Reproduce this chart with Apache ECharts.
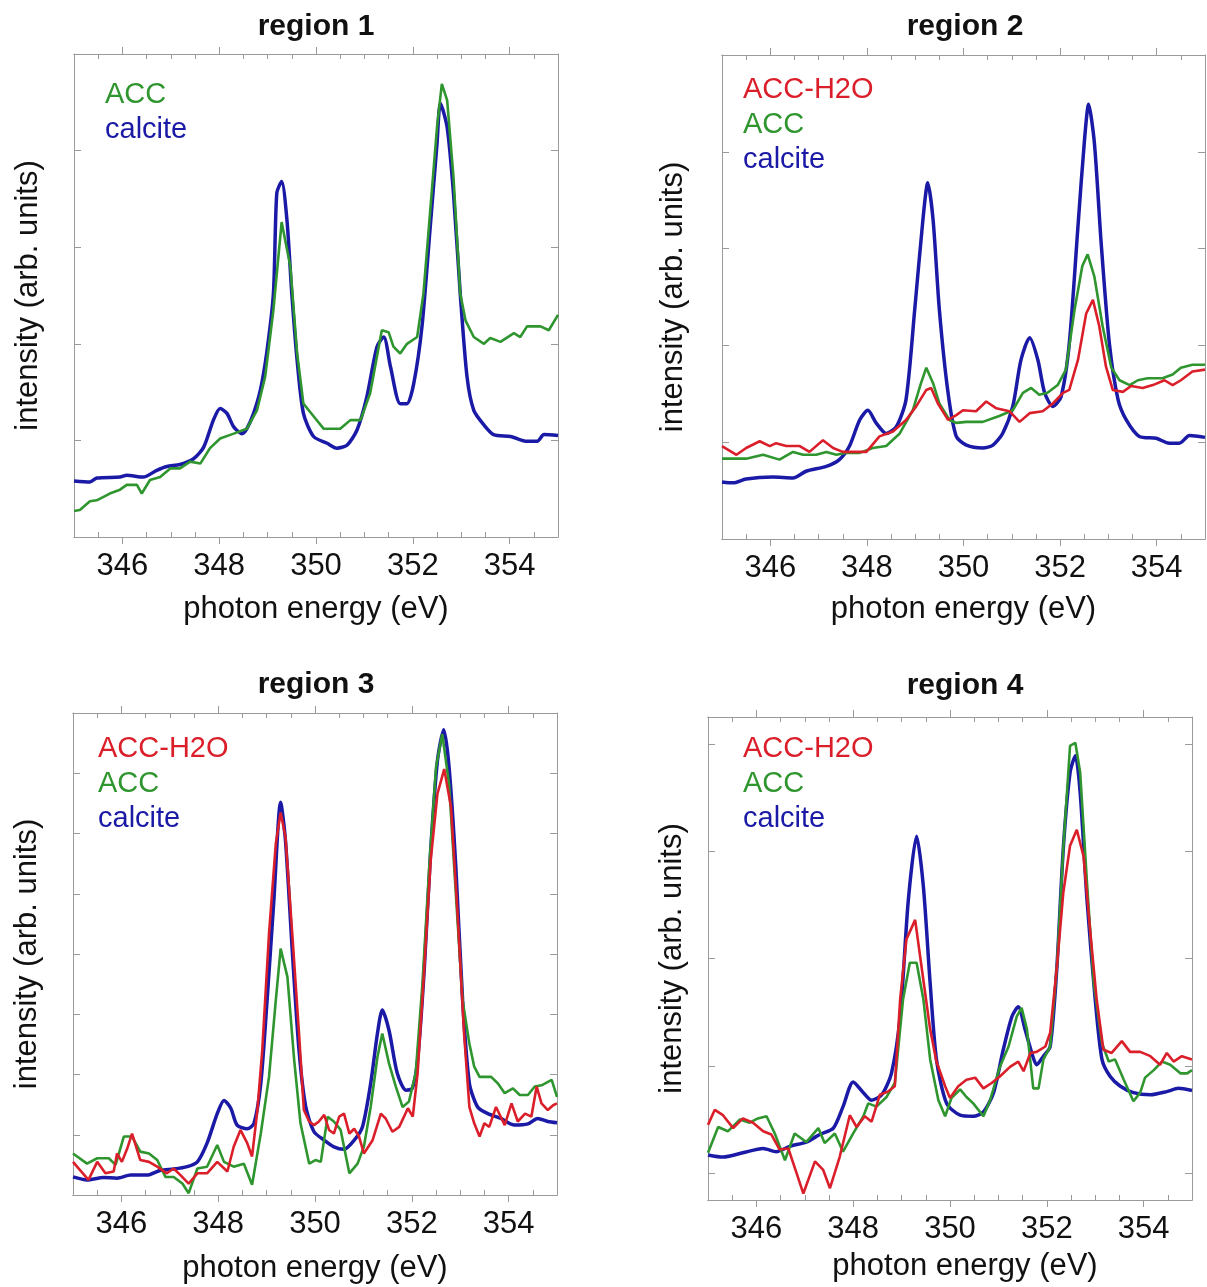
<!DOCTYPE html>
<html>
<head>
<meta charset="utf-8">
<script src="https://cdn.jsdelivr.net/npm/echarts@6/dist/echarts.min.js"></script>
<style>
  html, body { margin: 0; padding: 0; background: #fff; }
  #chart { width: 1207px; height: 1287px; }
</style>
</head>
<body>
<div id="chart"></div>
<script>
// x axis ticks (photon energy, eV)
const majorTicks = [346, 348, 350, 352, 354];
const minorTicks = [345.5, 346.5, 347, 347.5, 348.5, 349, 349.5, 350.5, 351, 351.5, 352.5, 353, 353.5, 354.5];
const regionTitles = ["region 1", "region 2", "region 3", "region 4"];

// region 1  [energy, intensity]
const r1Calcite = [[345,0.58],[345.33,0.57],[345.47,0.61],[345.95,0.62],[346.09,0.64],[346.43,0.62],[346.71,0.69],[346.92,0.73],[347.19,0.75],[347.47,0.81],[347.68,0.93],[347.88,1.21],[348.02,1.33],[348.16,1.28],[348.3,1.14],[348.47,1.07],[348.57,1.12],[348.71,1.28],[348.85,1.52],[348.98,1.9],[349.12,2.52],[349.19,3.56],[349.29,3.68],[349.4,3.28],[349.5,2.52],[349.61,1.83],[349.74,1.28],[349.95,1.04],[350.23,0.97],[350.43,0.92],[350.64,0.95],[350.85,1.11],[351.05,1.45],[351.26,1.97],[351.4,2.07],[351.54,1.76],[351.74,1.38],[351.88,1.38],[352.02,1.59],[352.19,2.18],[352.36,3.21],[352.5,4.07],[352.57,4.49],[352.71,4.24],[352.84,3.56],[352.98,2.52],[353.12,1.66],[353.26,1.31],[353.47,1.16],[353.67,1.06],[354.02,1.04],[354.36,0.99],[354.57,0.99],[354.71,1.06],[355,1.05]];
const r1Acc = [[345,0.27],[345.12,0.28],[345.33,0.37],[345.47,0.38],[345.74,0.45],[345.95,0.49],[346.09,0.54],[346.3,0.54],[346.4,0.45],[346.57,0.59],[346.78,0.62],[346.99,0.71],[347.19,0.71],[347.4,0.78],[347.61,0.76],[347.81,0.92],[348.02,1.02],[348.3,1.07],[348.57,1.12],[348.78,1.31],[348.95,1.66],[349.12,2.35],[349.29,3.26],[349.47,2.8],[349.61,1.9],[349.74,1.38],[349.95,1.25],[350.16,1.12],[350.5,1.12],[350.71,1.21],[350.92,1.21],[351.12,1.49],[351.36,2.14],[351.5,2.12],[351.6,1.97],[351.74,1.9],[351.88,2.0],[352.09,2.07],[352.22,2.52],[352.36,3.38],[352.5,4.24],[352.6,4.69],[352.71,4.52],[352.84,3.73],[352.98,2.52],[353.09,2.24],[353.26,2.07],[353.47,2.0],[353.6,2.06],[353.81,2.02],[354.09,2.11],[354.22,2.07],[354.36,2.18],[354.64,2.18],[354.81,2.14],[355,2.3]];

// region 2
const r2Calcite = [[345,0.59],[345.23,0.58],[345.5,0.62],[346.05,0.64],[346.47,0.63],[346.74,0.7],[347.16,0.75],[347.43,0.82],[347.64,0.96],[347.85,1.23],[348.02,1.33],[348.19,1.2],[348.4,1.09],[348.61,1.16],[348.81,1.44],[348.99,2.37],[349.16,3.3],[349.26,3.68],[349.37,3.3],[349.5,2.37],[349.68,1.51],[349.85,1.06],[350.06,0.97],[350.4,0.94],[350.61,0.97],[350.81,1.09],[351.02,1.37],[351.19,1.85],[351.37,2.08],[351.54,1.85],[351.68,1.51],[351.85,1.37],[352.02,1.47],[352.19,2.02],[352.37,3.23],[352.5,4.09],[352.59,4.49],[352.71,4.09],[352.85,3.06],[353.02,2.02],[353.2,1.44],[353.37,1.23],[353.64,1.06],[353.99,1.04],[354.26,0.99],[354.47,0.99],[354.68,1.07],[355,1.05]];
const r2Acc = [[345,0.83],[345.5,0.83],[345.85,0.87],[346.19,0.82],[346.47,0.9],[346.68,0.87],[346.95,0.87],[347.16,0.9],[347.37,0.87],[347.57,0.89],[347.85,0.89],[348.12,0.94],[348.4,0.96],[348.68,1.09],[348.95,1.33],[349.12,1.61],[349.23,1.77],[349.37,1.61],[349.5,1.4],[349.71,1.23],[349.85,1.2],[350.06,1.21],[350.4,1.21],[350.74,1.27],[351.02,1.33],[351.23,1.51],[351.4,1.56],[351.57,1.49],[351.74,1.51],[351.95,1.59],[352.12,1.75],[352.3,2.37],[352.46,2.82],[352.57,2.94],[352.71,2.71],[352.88,2.2],[353.06,1.77],[353.23,1.64],[353.44,1.59],[353.61,1.64],[353.81,1.66],[354.12,1.66],[354.33,1.7],[354.5,1.77],[354.74,1.8],[355,1.8]];
const r2AccH2o = [[345,0.96],[345.3,0.87],[345.5,0.94],[345.78,1.01],[345.99,0.96],[346.12,0.99],[346.33,0.96],[346.61,0.96],[346.81,0.9],[347.09,1.02],[347.3,0.94],[347.5,0.9],[347.78,0.9],[347.99,0.9],[348.26,1.06],[348.54,1.11],[348.81,1.23],[349.02,1.37],[349.23,1.54],[349.33,1.56],[349.47,1.4],[349.68,1.23],[349.85,1.28],[349.99,1.33],[350.26,1.32],[350.47,1.42],[350.68,1.35],[350.95,1.32],[351.16,1.21],[351.37,1.3],[351.64,1.32],[351.85,1.4],[352.06,1.51],[352.19,1.54],[352.37,1.85],[352.54,2.33],[352.68,2.47],[352.81,2.2],[352.95,1.78],[353.09,1.54],[353.3,1.52],[353.47,1.58],[353.71,1.56],[353.92,1.59],[354.16,1.64],[354.33,1.59],[354.5,1.64],[354.74,1.73],[355,1.75]];

// region 3
const r3Calcite = [[345,0.3],[345.29,0.25],[345.63,0.29],[345.91,0.28],[346.19,0.33],[346.53,0.33],[346.81,0.41],[347.08,0.43],[347.36,0.47],[347.57,0.55],[347.77,0.86],[347.98,1.35],[348.12,1.57],[348.26,1.44],[348.39,1.16],[348.6,1.1],[348.74,1.19],[348.88,1.85],[349.01,3.23],[349.15,4.89],[349.29,6.52],[349.39,5.88],[349.53,4.06],[349.67,2.4],[349.81,1.46],[349.98,1.05],[350.19,0.91],[350.39,0.8],[350.6,0.76],[350.81,0.91],[350.98,1.13],[351.15,1.85],[351.29,2.68],[351.39,3.07],[351.53,2.73],[351.7,2.02],[351.88,1.74],[352.01,1.77],[352.12,2.24],[352.26,3.78],[352.39,5.72],[352.53,7.21],[352.66,7.72],[352.77,7.1],[352.91,5.44],[353.05,3.23],[353.19,1.85],[353.36,1.46],[353.57,1.35],[353.84,1.27],[354.12,1.16],[354.4,1.18],[354.6,1.27],[354.81,1.22],[355,1.2]];
const r3Acc = [[345,0.69],[345.29,0.52],[345.5,0.61],[345.74,0.61],[345.88,0.5],[346.05,0.97],[346.22,0.97],[346.39,0.72],[346.57,0.69],[346.74,0.58],[346.91,0.3],[347.08,0.3],[347.26,0.19],[347.39,0.03],[347.57,0.44],[347.77,0.47],[347.98,0.83],[348.12,0.55],[348.32,0.47],[348.53,0.52],[348.7,0.17],[348.88,1.02],[349.05,1.96],[349.19,3.23],[349.29,4.09],[349.43,3.62],[349.57,2.24],[349.7,1.19],[349.88,0.52],[350.01,0.58],[350.12,0.55],[350.26,1.3],[350.39,1.22],[350.53,1.08],[350.71,0.36],[350.88,0.52],[351.01,0.8],[351.15,1.46],[351.29,2.29],[351.39,2.68],[351.53,2.18],[351.67,1.8],[351.81,1.46],[351.94,1.55],[352.08,2.02],[352.22,3.51],[352.36,5.44],[352.5,7.1],[352.63,7.65],[352.77,6.82],[352.94,4.61],[353.05,3.23],[353.19,2.51],[353.29,2.13],[353.4,1.96],[353.64,1.96],[353.78,1.85],[353.92,1.69],[354.09,1.77],[354.23,1.66],[354.4,1.66],[354.54,1.8],[354.68,1.82],[354.89,1.91],[355,1.63]];
const r3AccH2o = [[345,0.55],[345.15,0.41],[345.32,0.25],[345.5,0.55],[345.67,0.36],[345.84,0.39],[345.91,0.69],[346.01,0.55],[346.12,0.77],[346.22,1.02],[346.39,0.58],[346.57,0.55],[346.74,0.47],[346.94,0.36],[347.08,0.44],[347.22,0.33],[347.39,0.19],[347.57,0.36],[347.77,0.36],[347.98,0.55],[348.19,0.39],[348.32,0.8],[348.46,1.08],[348.6,0.86],[348.7,0.64],[348.81,1.41],[348.91,2.4],[349.05,4.34],[349.19,5.83],[349.29,6.35],[349.39,5.94],[349.53,4.34],[349.67,2.68],[349.77,1.41],[349.88,1.22],[349.98,1.16],[350.08,1.22],[350.19,1.33],[350.29,1.08],[350.39,1.02],[350.5,1.3],[350.6,1.35],[350.71,1.02],[350.81,1.1],[350.91,0.97],[351.01,0.69],[351.19,0.91],[351.36,1.35],[351.46,1.27],[351.6,1.05],[351.74,1.13],[351.92,1.44],[352.02,1.3],[352.12,2.02],[352.26,3.78],[352.39,5.55],[352.53,6.66],[352.67,7.07],[352.81,6.44],[352.95,4.61],[353.08,2.68],[353.19,1.46],[353.29,1.19],[353.4,0.97],[353.5,1.19],[353.6,1.13],[353.74,1.46],[353.92,1.16],[354.06,1.52],[354.19,1.22],[354.34,1.35],[354.47,1.3],[354.58,1.8],[354.68,1.52],[354.81,1.41],[354.92,1.49],[355,1.52]];

// region 4
const r4Calcite = [[345,0.42],[345.31,0.4],[345.72,0.44],[346.14,0.48],[346.41,0.45],[346.69,0.5],[347.03,0.54],[347.31,0.61],[347.59,0.67],[347.79,0.87],[348.0,1.1],[348.21,1.0],[348.38,0.93],[348.59,0.98],[348.79,1.18],[348.97,1.71],[349.14,2.8],[349.31,3.39],[349.45,2.92],[349.59,2.02],[349.72,1.31],[349.93,0.9],[350.21,0.79],[350.48,0.78],[350.69,0.82],[350.9,1.0],[351.1,1.4],[351.28,1.71],[351.41,1.8],[351.55,1.59],[351.69,1.37],[351.79,1.26],[351.93,1.34],[352.07,1.43],[352.21,2.18],[352.34,3.27],[352.48,3.98],[352.59,4.14],[352.69,3.79],[352.83,2.8],[353.0,1.87],[353.14,1.31],[353.31,1.15],[353.52,1.06],[353.79,1.0],[354.14,0.98],[354.48,1.01],[354.72,1.04],[355,1.02]];
const r4Acc = [[345,0.44],[345.21,0.68],[345.41,0.64],[345.66,0.75],[345.86,0.72],[346.03,0.76],[346.21,0.78],[346.38,0.62],[346.59,0.37],[346.79,0.62],[347.03,0.54],[347.28,0.67],[347.41,0.53],[347.62,0.62],[347.79,0.45],[348.0,0.62],[348.21,0.78],[348.31,0.9],[348.48,0.87],[348.69,0.96],[348.86,1.09],[349.03,1.87],[349.17,2.21],[349.31,2.21],[349.45,1.87],[349.59,1.31],[349.76,0.93],[349.9,0.78],[350.03,0.95],[350.21,1.03],[350.34,0.96],[350.48,0.9],[350.69,0.78],[350.83,0.93],[351.03,1.24],[351.21,1.43],[351.38,1.71],[351.48,1.79],[351.59,1.59],[351.72,1.04],[351.83,1.04],[351.93,1.31],[352.07,1.43],[352.21,2.18],[352.34,3.27],[352.48,4.23],[352.59,4.26],[352.69,3.98],[352.83,2.96],[352.97,2.02],[353.14,1.46],[353.28,1.29],[353.41,1.31],[353.59,1.12],[353.79,0.92],[353.93,1.0],[354.03,1.14],[354.21,1.21],[354.38,1.29],[354.55,1.26],[354.76,1.18],[354.9,1.18],[355,1.21]];
const r4AccH2o = [[345,0.7],[345.14,0.84],[345.31,0.79],[345.52,0.67],[345.72,0.76],[345.93,0.72],[346.14,0.64],[346.31,0.61],[346.48,0.47],[346.66,0.48],[346.83,0.25],[346.97,0.06],[347.21,0.36],[347.38,0.28],[347.52,0.11],[347.72,0.4],[347.93,0.79],[348.07,0.68],[348.24,0.78],[348.38,0.73],[348.55,0.98],[348.72,1.01],[348.86,1.06],[348.97,1.87],[349.1,2.43],[349.28,2.61],[349.41,2.18],[349.59,1.59],[349.72,1.29],[349.9,1.06],[350.0,0.95],[350.17,1.06],[350.34,1.12],[350.52,1.14],[350.69,1.04],[350.86,1.09],[351.03,1.15],[351.24,1.24],[351.41,1.29],[351.52,1.2],[351.66,1.37],[351.79,1.38],[351.97,1.43],[352.07,1.56],[352.21,2.18],[352.34,2.86],[352.48,3.3],[352.62,3.45],[352.76,3.2],[352.9,2.49],[353.03,1.87],[353.17,1.4],[353.34,1.37],[353.55,1.48],[353.72,1.38],[353.93,1.38],[354.14,1.34],[354.34,1.26],[354.48,1.37],[354.62,1.29],[354.79,1.34],[355,1.31]];

const BLUE = "#1a1aa6";
const GREEN = "#2f952f";
const RED = "#db1f2a";
const AXIS = "#9a9a9a";
const FONT = "'Liberation Sans', Arial, sans-serif";

const panels = [
  { grid: { left: 74, top: 54, width: 484, height: 483 }, yMax: 5, yTicks: [1, 2, 3, 4],
    title: [316, 27], legendAt: [105, 95], xGap: 57, yGap: 30, namePad: 0,
    series: [["calcite", r1Calcite, BLUE], ["ACC", r1Acc, GREEN]], legend: [["ACC", GREEN], ["calcite", BLUE]] },
  { grid: { left: 722, top: 55, width: 483, height: 484 }, yMax: 5, yTicks: [1, 2, 3, 4],
    title: [965, 27], legendAt: [743, 90], xGap: 55, yGap: 33, namePad: 0,
    series: [["calcite", r2Calcite, BLUE], ["ACC", r2Acc, GREEN], ["ACC-H2O", r2AccH2o, RED]],
    legend: [["ACC-H2O", RED], ["ACC", GREEN], ["calcite", BLUE]] },
  { grid: { left: 73, top: 713, width: 484, height: 482 }, yMax: 8, yTicks: [1, 2, 3, 4, 5, 6, 7],
    title: [316, 685], legendAt: [98, 749], xGap: 58, yGap: 30, namePad: 0,
    series: [["calcite", r3Calcite, BLUE], ["ACC", r3Acc, GREEN], ["ACC-H2O", r3AccH2o, RED]],
    legend: [["ACC-H2O", RED], ["ACC", GREEN], ["calcite", BLUE]] },
  { grid: { left: 708, top: 717, width: 484, height: 483 }, yMax: 4.5, yTicks: [0.25, 1.25, 2.25, 3.25, 4.25],
    title: [965, 686], legendAt: [743, 749], xGap: 51, yGap: 20, namePad: 30,
    series: [["calcite", r4Calcite, BLUE], ["ACC", r4Acc, GREEN], ["ACC-H2O", r4AccH2o, RED]],
    legend: [["ACC-H2O", RED], ["ACC", GREEN], ["calcite", BLUE]] }
];

const grids = [];
const xAxes = [];
const yAxes = [];
const seriesList = [];
const graphics = [];

const xAxis = (gi, position, ticks, inside, extra) => Object.assign({
  type: "value", gridIndex: gi, position: position, min: 345, max: 355,
  axisLine: { show: true, lineStyle: { color: AXIS, width: 1 } },
  axisTick: { show: true, customValues: ticks, inside: inside, length: inside ? 5 : 7, lineStyle: { color: AXIS } },
  axisLabel: { show: false },
  splitLine: { show: false }
}, extra || {});

panels.forEach((p, i) => {
  grids.push(Object.assign({ containLabel: false }, p.grid));

  xAxes.push(xAxis(i, "bottom", majorTicks, false, {
    name: "photon energy (eV)", nameLocation: "middle", nameGap: p.xGap,
    nameTextStyle: { fontFamily: FONT, fontSize: 31, color: "#111", padding: [0, 0, 0, p.namePad] },
    axisLabel: { show: true, customValues: majorTicks, margin: 14, fontFamily: FONT, fontSize: 31, color: "#111" }
  }));
  xAxes.push(xAxis(i, "bottom", minorTicks, true));
  xAxes.push(xAxis(i, "top", majorTicks, false));
  xAxes.push(xAxis(i, "top", minorTicks, true));

  ["left", "right"].forEach((side) => {
    yAxes.push({
      type: "value", gridIndex: i, position: side, min: 0, max: p.yMax,
      name: side === "left" ? "intensity (arb. units)" : "",
      nameLocation: "middle", nameGap: p.yGap,
      nameTextStyle: { fontFamily: FONT, fontSize: 31, color: "#111" },
      axisLine: { show: true, lineStyle: { color: AXIS, width: 1 } },
      axisTick: { show: true, customValues: p.yTicks, inside: true, length: 7, lineStyle: { color: AXIS } },
      axisLabel: { show: false },
      splitLine: { show: false }
    });
  });

  p.series.forEach(([name, data, color]) => {
    seriesList.push({
      name: name, type: "line", xAxisIndex: i * 4, yAxisIndex: i * 2,
      data: data, showSymbol: false, smooth: color === BLUE ? 0.25 : false,
      lineStyle: { color: color, width: color === BLUE ? 3.5 : 2.6 },
      itemStyle: { color: color }, animation: false
    });
  });

  graphics.push({
    type: "text", x: p.title[0], y: p.title[1],
    style: { text: regionTitles[i], font: "bold 30px " + FONT, fill: "#111", textAlign: "center", textVerticalAlign: "middle" }
  });
  p.legend.forEach(([label, color], k) => {
    graphics.push({
      type: "text", x: p.legendAt[0], y: p.legendAt[1] + k * 35,
      style: { text: label, font: "29px " + FONT, fill: color, textAlign: "left", textVerticalAlign: "middle" }
    });
  });
});

const chart = echarts.init(document.getElementById("chart"), null, { renderer: "canvas" });
chart.setOption({
  animation: false,
  backgroundColor: "#fff",
  grid: grids,
  xAxis: xAxes,
  yAxis: yAxes,
  series: seriesList,
  graphic: graphics
});
</script>
</body>
</html>
